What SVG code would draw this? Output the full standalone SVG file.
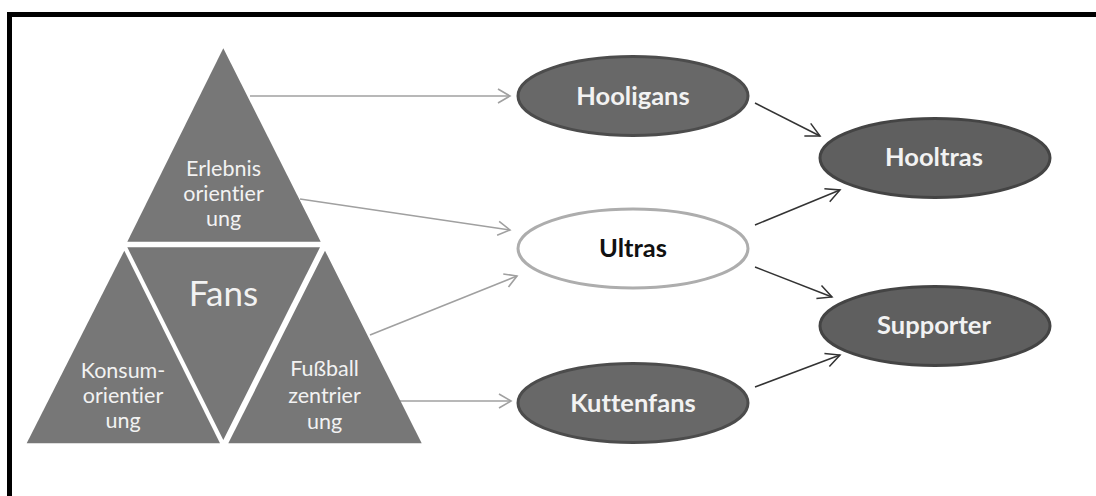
<svg xmlns="http://www.w3.org/2000/svg" width="1096" height="496" viewBox="0 0 1096 496">
<style>
text{font-variant-ligatures:none;font-feature-settings:"liga" 0,"clig" 0;}
.tri{fill:#777777;}
.tt{font-family:Lato,"Open Sans","Liberation Sans",sans-serif;font-size:21.5px;fill:#f2f2f2;text-anchor:middle;}
.big{font-size:35px;}
.ell{fill:#686868;stroke:#4c4c4c;stroke-width:3;}
.ell2{fill:#5f5f5f;stroke:#444444;stroke-width:3;}
.ellw{fill:#ffffff;stroke:#adadad;stroke-width:3;}
.et{font-family:Lato,"Open Sans","Liberation Sans",sans-serif;font-size:25.5px;font-weight:bold;fill:#f2f2f2;text-anchor:middle;}
.etd{fill:#111111;}
.gl{stroke:#a0a0a0;stroke-width:1.6;fill:none;marker-end:url(#ag);}
.dl{stroke:#333333;stroke-width:1.5;fill:none;marker-end:url(#ad);}
</style>
<defs>
<marker id="ag" viewBox="-14 -9 16 18" markerWidth="16" markerHeight="18" refX="0" refY="0" orient="auto" markerUnits="userSpaceOnUse">
<path d="M-12,-7 L0,0 L-12,7" fill="none" stroke="#a0a0a0" stroke-width="1.6"/>
</marker>
<marker id="ad" viewBox="-16 -9 18 18" markerWidth="18" markerHeight="18" refX="0" refY="0" orient="auto" markerUnits="userSpaceOnUse">
<path d="M-14,-7 L0,0 L-14,7" fill="none" stroke="#333333" stroke-width="1.5"/>
</marker>
</defs>
<rect width="1096" height="496" fill="#ffffff"/>
<path d="M9.5,496 V14.5 H1096" fill="none" stroke="#000000" stroke-width="5"/>

<g id="connectors">
<line class="gl" x1="250" y1="96" x2="510" y2="96"/>
<line class="gl" x1="300" y1="199" x2="510" y2="230"/>
<line class="gl" x1="370" y1="335" x2="517" y2="276"/>
<line class="gl" x1="400" y1="401" x2="511" y2="401"/>
<line class="dl" x1="755" y1="103" x2="820" y2="136"/>
<line class="dl" x1="755" y1="225" x2="840" y2="190"/>
<line class="dl" x1="755" y1="267" x2="832" y2="297"/>
<line class="dl" x1="755" y1="387" x2="840" y2="355"/>
</g>

<g id="erlebnis">
<polygon class="tri" points="223.3,48.3 320.7,241.7 127.3,241.7"/>
<text class="tt" x="223.5" y="176">Erlebnis</text>
<text class="tt" x="223.5" y="201">orientier</text>
<text class="tt" x="223.5" y="226">ung</text>
</g>
<g id="fans">
<polygon class="tri" points="127.3,247.3 320,247.3 223.3,440"/>
<text class="tt big" x="223.5" y="306">Fans</text>
</g>
<g id="konsum">
<polygon class="tri" points="124.3,250.7 220,443.3 26.7,443.3"/>
<text class="tt" x="123" y="377.5">Konsum-</text>
<text class="tt" x="123" y="402.5">orientier</text>
<text class="tt" x="123" y="427.5">ung</text>
</g>
<g id="fussball">
<polygon class="tri" points="325,250.7 421.7,443.3 228.3,443.3"/>
<text class="tt" x="324.5" y="376">Fußball</text>
<text class="tt" x="324.5" y="403">zentrier</text>
<text class="tt" x="324.5" y="429">ung</text>
</g>

<g id="hooligans">
<ellipse class="ell" cx="633" cy="96" rx="115" ry="39.5"/>
<text class="et" x="633" y="104.5">Hooligans</text>
</g>
<g id="ultras">
<ellipse class="ellw" cx="633" cy="248.5" rx="115" ry="39.5"/>
<text class="et etd" x="633" y="257">Ultras</text>
</g>
<g id="kuttenfans">
<ellipse class="ell" cx="633" cy="403" rx="115" ry="39.5"/>
<text class="et" x="633" y="411.5">Kuttenfans</text>
</g>
<g id="hooltras">
<ellipse class="ell2" cx="935" cy="158" rx="115" ry="39.5"/>
<text class="et" x="934" y="166">Hooltras</text>
</g>
<g id="supporter">
<ellipse class="ell2" cx="935" cy="326" rx="115" ry="39.5"/>
<text class="et" x="934" y="334">Supporter</text>
</g>
</svg>
